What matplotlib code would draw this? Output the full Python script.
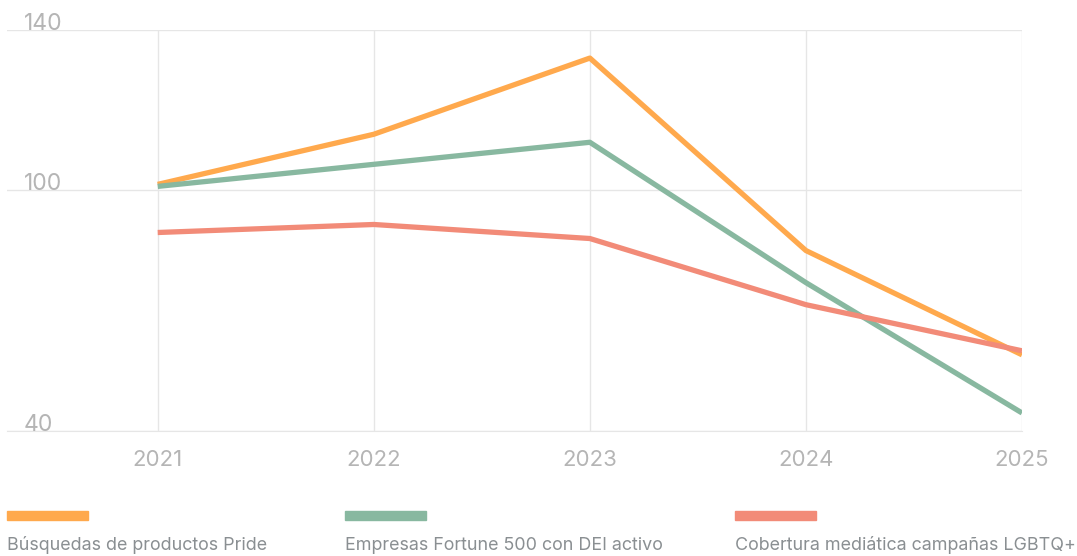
import matplotlib
matplotlib.use("Agg")
import matplotlib.pyplot as plt

years = [2021, 2022, 2023, 2024, 2025]
series_names = ["Búsquedas de productos Pride",
                "Empresas Fortune 500 con DEI activo",
                "Cobertura mediática campañas LGBTQ+"]
pride_search = [101.5, 114, 133, 85, 59]
dei_companies = [101, 106.5, 112, 77, 44.5]
media_coverage = [89.5, 91.5, 88, 71.5, 60]
y_ticks = [40, 100, 140]

COLORS = ["#FFA94D", "#88B8A0", "#F28B78"]
GRID = "#e6e6e6"
TICK = "#b5b5b5"
LEGEND_TXT = "#8a8f92"

plt.rcParams.update({"font.family": ["Inter", "DejaVu Sans"]})

fig = plt.figure(figsize=(10.77, 5.56), dpi=100)
W, H = 1077, 556
ax = fig.add_axes([7 / W, (H - 431) / H, (1022 - 7) / W, (431 - 30) / H])

for vals, c in zip([pride_search, dei_companies, media_coverage], COLORS):
    ax.plot(years, vals, color=c, lw=3.8, solid_capstyle="butt", zorder=3)

ax.set_xlim(2021 - 151 / 216.5, 2025)
ax.set_ylim(40, 140)
ax.set_yticks(y_ticks)
ax.set_xticks(years)
ax.grid(True, color=GRID, lw=1)
ax.tick_params(length=0, labelleft=False)
ax.set_xticklabels([str(y) for y in years], color=TICK, fontsize=16)
ax.tick_params(axis="x", pad=14)
for s in ["top", "left", "right"]:
    ax.spines[s].set_visible(False)
ax.spines["bottom"].set_color(GRID)

for t in y_ticks:
    ax.text(17 / (1022 - 7), t, str(t), transform=ax.get_yaxis_transform(),
            ha="left", va="baseline", color=TICK, fontsize=16.5)

# legend drawn manually below the plot
leg_x = [7, 345, 735]
for name, c, x in zip(series_names, COLORS, leg_x):
    fig.patches.append(plt.Rectangle((x / W, (H - 520) / H), 81 / W, 9 / H,
                                     transform=fig.transFigure, color=c))
    fig.text(x / W, (H - 545) / H, name, ha="left", va="center",
             color=LEGEND_TXT, fontsize=12.9)

fig.savefig("out.png", dpi=100)
